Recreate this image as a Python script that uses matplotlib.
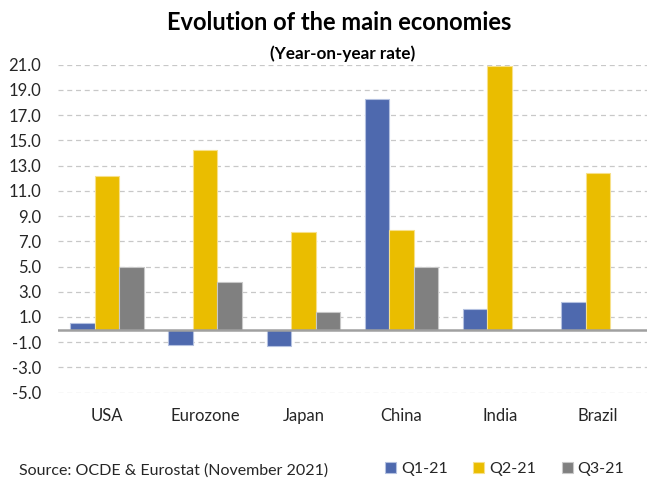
import matplotlib.pyplot as plt
import numpy as np

plt.rcParams['font.family'] = ['Lato', 'DejaVu Sans']

# data
countries = ['USA', 'Eurozone', 'Japan', 'China', 'India', 'Brazil']
q1_21 = [0.5, -1.2, -1.3, 18.3, 1.6, 2.2]
q2_21 = [12.2, 14.2, 7.7, 7.9, 20.9, 12.4]
q3_21 = [5.0, 3.8, 1.4, 5.0, np.nan, np.nan]
series_names = ['Q1-21', 'Q2-21', 'Q3-21']
y_ticks = np.arange(-5, 22, 2)

colors = ['#4E69AE', '#EABD00', '#808080']
edges = ['#B4C1E0', '#F7E08A', '#C8C8C8']

fig = plt.figure(figsize=(6.47, 4.78), dpi=100)
ax = fig.add_axes([0.0896, 0.1785, 0.9104, 0.6862])

x = np.arange(len(countries))
w = 0.25
for i, vals in enumerate([q1_21, q2_21, q3_21]):
    ax.bar(x + (i - 1) * w, vals, width=w, color=colors[i],
           edgecolor=edges[i], linewidth=0.8, label=series_names[i], zorder=3)

ax.set_xlim(-0.5, len(countries) - 0.5)
ax.set_ylim(-5, 21)
ax.set_yticks(y_ticks)
ax.set_yticklabels([f'{v:.1f}' for v in y_ticks], fontsize=12, color='#262626')
ax.set_xticks(x)
ax.set_xticklabels(countries, fontsize=12, color='#262626')
ax.tick_params(axis='both', length=0)
ax.tick_params(axis='x', pad=11)
ax.tick_params(axis='y', pad=12)

ax.grid(axis='y', color='#C8C8C8', linestyle=(0, (4, 3)), linewidth=0.9, zorder=0)
ax.axhline(0, color='#A0A0A0', linewidth=1.8, zorder=4)
for s in ax.spines.values():
    s.set_visible(False)

fig.text(0.525, 0.952, 'Evolution of the main economies', ha='center', va='center',
         fontsize=17, fontweight='bold', color='black')
fig.text(0.53, 0.888, '(Year-on-year rate)', ha='center', va='center',
         fontsize=12.3, fontweight='bold', color='black')

fig.text(0.03, 0.016, 'Source: OCDE & Eurostat (November 2021)', ha='left', va='center',
         fontsize=11.5, color='#262626')

fig.legend(loc='center', bbox_to_anchor=(0.78, 0.018), ncol=3, frameon=False,
           fontsize=11.5, handlelength=0.7, handleheight=0.7, handletextpad=0.3,
           columnspacing=1.6, labelcolor='#262626')

fig.savefig('out.png', dpi=100)
